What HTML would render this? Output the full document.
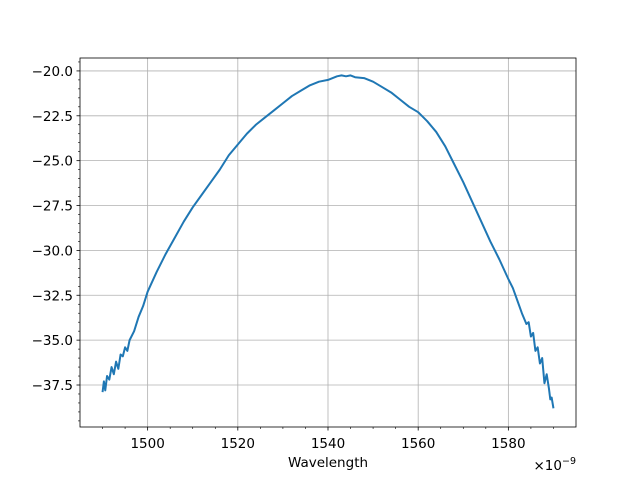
<!DOCTYPE html>
<html><head><meta charset="utf-8"><style>
body{margin:0;background:#fff;}
svg text{font-family:"DejaVu Sans","Liberation Sans",sans-serif;font-size:13.5px;fill:#000;}
</style></head><body>
<svg id="chart" width="640" height="480" xmlns="http://www.w3.org/2000/svg">
<rect width="640" height="480" fill="#fff"/>
<g id="grid"></g>
<g id="line"></g>
<g id="axes"></g>
</svg>
<script>
const wavelengths = [1490,1490.3,1490.6,1491,1491.5,1492,1492.5,1493,1493.5,1494,1494.5,1495,1495.5,1496,1497,1498,1499,1500,1502,1504,1506,1508,1510,1512,1514,1516,1518,1520,1522,1524,1526,1528,1530,1532,1534,1536,1538,1540,1542,1543,1544,1545,1546,1548,1550,1552,1554,1556,1558,1560,1562,1564,1566,1568,1570,1572,1574,1576,1578,1580,1581,1582,1583,1584,1584.5,1585,1585.5,1586,1586.5,1587,1587.5,1588,1588.5,1589,1589.3,1589.6,1590];
const powers = [-37.9,-37.3,-37.8,-37.0,-37.2,-36.5,-36.9,-36.2,-36.6,-35.8,-35.9,-35.4,-35.6,-35.0,-34.5,-33.7,-33.1,-32.3,-31.2,-30.2,-29.3,-28.4,-27.6,-26.9,-26.2,-25.5,-24.7,-24.1,-23.5,-23.0,-22.6,-22.2,-21.8,-21.4,-21.1,-20.8,-20.6,-20.5,-20.3,-20.25,-20.3,-20.25,-20.35,-20.4,-20.6,-20.9,-21.2,-21.6,-22.0,-22.3,-22.8,-23.4,-24.2,-25.2,-26.2,-27.3,-28.4,-29.5,-30.5,-31.6,-32.1,-32.8,-33.5,-34.1,-34.0,-34.8,-34.6,-35.6,-35.4,-36.3,-36.0,-37.4,-36.9,-37.7,-38.3,-38.2,-38.8];
const xTicks = [1500,1520,1540,1560,1580];
const yTicks = [-20,-22.5,-25,-27.5,-30,-32.5,-35,-37.5];
const L=80,R=576,T=58,B=427;
const xmin=1485,xmax=1595,ymin=-39.84,ymax=-19.28;
const X=v=>L+(v-xmin)/(xmax-xmin)*(R-L);
const Y=v=>B-(v-ymin)/(ymax-ymin)*(B-T);
const NS='http://www.w3.org/2000/svg';
function mk(t,a,p){const e=document.createElementNS(NS,t);for(const k in a)e.setAttribute(k,a[k]);p.appendChild(e);return e;}
const grid=document.getElementById('grid'),axes=document.getElementById('axes'),line=document.getElementById('line');
xTicks.forEach(v=>{const g=mk('line',{x1:X(v),x2:X(v),y1:T,y2:B,stroke:'#b0b0b0','stroke-width':0.8},grid);

mk('line',{x1:X(v),x2:X(v),y1:B,y2:B+3.5,stroke:'#000','stroke-width':0.8},axes);
const t=mk('text',{x:X(v),y:B+21,'text-anchor':'middle'},axes);t.textContent=v;
});
for(let v=1490;v<=1590;v+=5){if(v%20!==0)mk('line',{x1:X(v),x2:X(v),y1:B,y2:B+2,stroke:'#000','stroke-width':0.6},axes);}
yTicks.forEach(v=>{const g=mk('line',{x1:L,x2:R,y1:Y(v),y2:Y(v),stroke:'#b0b0b0','stroke-width':0.8},grid);

mk('line',{x1:L-3.5,x2:L,y1:Y(v),y2:Y(v),stroke:'#000','stroke-width':0.8},axes);
const t=mk('text',{x:L-7,y:Y(v)+5,'text-anchor':'end'},axes);t.textContent=v.toFixed(1).replace('-','\u2212');
});
for(let v=-39.5;v<=-19.5;v+=0.5){if(Math.abs((v*2)%5)>0.01)mk('line',{x1:L-2,x2:L,y1:Y(v),y2:Y(v),stroke:'#000','stroke-width':0.6},axes);}
const p=mk('polyline',{points:wavelengths.map((w,i)=>X(w)+','+Y(powers[i])).join(' '),fill:'none',stroke:'#1f77b4','stroke-width':2,'stroke-linejoin':'round'},line);

const f=mk('rect',{x:L,y:T,width:R-L,height:B-T,fill:'none',stroke:'#000','stroke-width':0.8},axes);

const xl=mk('text',{x:(L+R)/2,y:467,'text-anchor':'middle'},axes);xl.textContent='Wavelength';

const off=mk('text',{x:R,y:470,'text-anchor':'end'},axes);off.innerHTML='×10<tspan dy="-6" font-size="9.5">−9</tspan>';

</script>
</body></html>
